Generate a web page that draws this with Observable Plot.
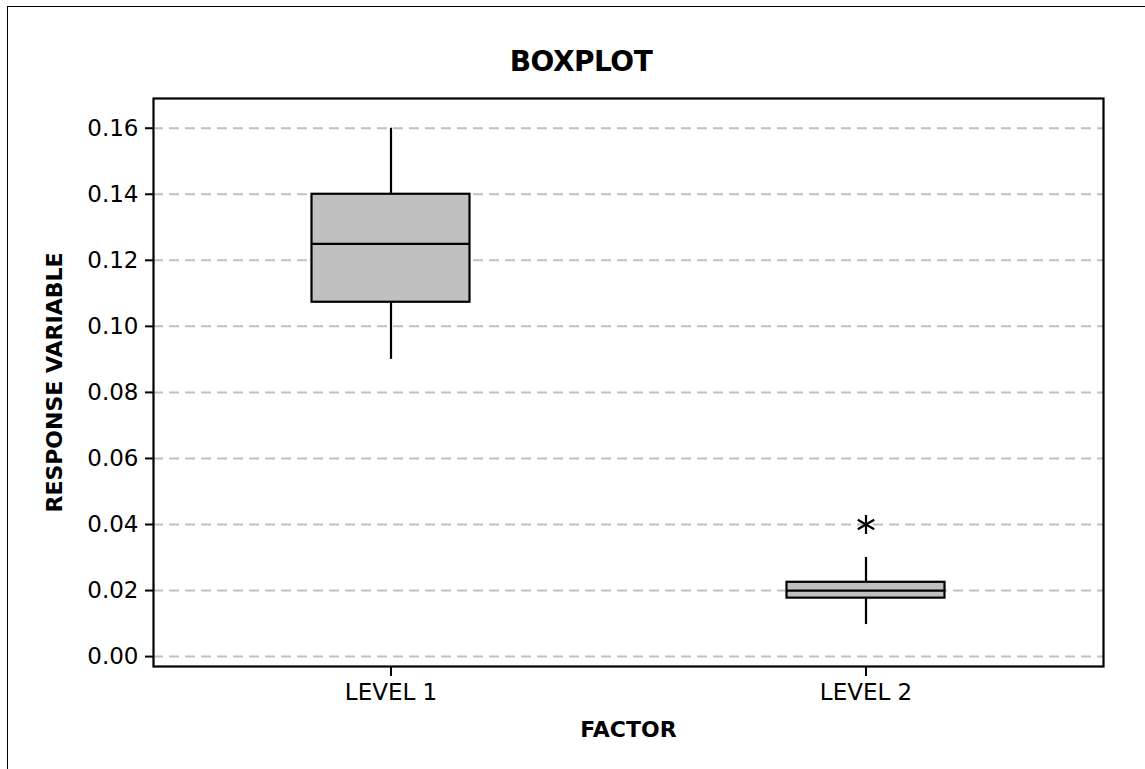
<!DOCTYPE html>
<html>
<head>
<meta charset="utf-8">
<script src="https://cdn.jsdelivr.net/npm/d3@7"></script>
<script src="https://cdn.jsdelivr.net/npm/@observablehq/plot@0.6"></script>
<style>
  html, body { margin: 0; padding: 0; background: #fff; overflow: hidden; }
  #page { position: relative; width: 1145px; height: 769px; overflow: hidden; background: #fff; }
  #border { position: absolute; left: 7px; top: 6px; width: 1300px; height: 900px; z-index: 5;
            border-top: 1px solid #000; border-left: 1px solid #000; pointer-events: none; }
  #title { position: absolute; left: 431px; width: 300px; top: 48px; height: 30px; line-height: 28px;
           text-align: center; font-family: "DejaVu Sans", sans-serif; font-weight: bold;
           font-size: 28px; letter-spacing: -0.5px; color: #000; }
  #chart { position: absolute; left: 0; top: 80px; }
  #chart svg { background: transparent !important; }
  #chart svg text { fill: #000; }
</style>
</head>
<body>
<div id="page">
  <div id="title">BOXPLOT</div>
  <div id="chart"></div>
  <div id="border"></div>
</div>
<script>
// ---- data ----
const levels      = ["LEVEL 1", "LEVEL 2"];
const whiskerLow  = [0.090, 0.0097];
const q1          = [0.1073, 0.0177];
const median      = [0.125, 0.020];
const q3          = [0.140, 0.0225];
const whiskerHigh = [0.160, 0.030];
const outlierLevel = ["LEVEL 2"];
const outlierValue = [0.040];
const yTicks = [0.00, 0.02, 0.04, 0.06, 0.08, 0.10, 0.12, 0.14, 0.16];
const yLabel = "RESPONSE VARIABLE";
const xLabel = "FACTOR";

const boxes = levels.map((level, i) => ({
  level, lo: whiskerLow[i], q1: q1[i], median: median[i], q3: q3[i], hi: whiskerHigh[i]
}));
const outliers = outlierLevel.map((level, i) => ({level, value: outlierValue[i]}));

const W = 1145, H = 689;
const mL = 153, mR = 42, mT = 18, mB = 103;
const bandW = (W - mL - mR) / levels.length;
const boxInset = (bandW - 158) / 2;

const chart = Plot.plot({
  width: W,
  height: H,
  marginLeft: mL,
  marginRight: mR,
  marginTop: mT,
  marginBottom: mB,
  style: {fontFamily: "DejaVu Sans, sans-serif", fontSize: "23px", color: "#000", background: "transparent"},
  x: {type: "band", domain: levels, padding: 0, align: 0.5, label: null},
  y: {domain: [-0.003, 0.169], label: null},
  marks: [
    Plot.gridY(yTicks, {stroke: "#c0c0c0", strokeOpacity: 1, strokeWidth: 2, strokeDasharray: "10,6"}),
    Plot.ruleX(boxes, {x: "level", y1: "lo", y2: "q1", stroke: "#000", strokeWidth: 2.2}),
    Plot.ruleX(boxes, {x: "level", y1: "q3", y2: "hi", stroke: "#000", strokeWidth: 2.2}),
    Plot.barY(boxes, {x: "level", y1: "q1", y2: "q3", fill: "#c0c0c0", stroke: "#000", strokeWidth: 2.2,
                      insetLeft: boxInset, insetRight: boxInset}),
    Plot.tickY(boxes, {x: "level", y: "median", stroke: "#000", strokeWidth: 2.2,
                       insetLeft: boxInset, insetRight: boxInset}),
    Plot.dot(outliers, {x: "level", y: "value", symbol: "asterisk", r: 9, stroke: "#000", strokeWidth: 2.2}),
    Plot.axisY(yTicks, {tickSize: 8, tickPadding: 7, tickFormat: d3.format(".2f"), label: null,
                        fontSize: 23, stroke: "#000", strokeWidth: 2, fill: "#000"}),
    Plot.axisX({tickSize: 10, tickPadding: 7, label: null, fontSize: 23,
                stroke: "#000", strokeWidth: 2, fill: "#000"}),
    Plot.frame({stroke: "#000", strokeWidth: 2.2}),
    Plot.text([yLabel], {frameAnchor: "left", rotate: -90, dx: -92, lineAnchor: "bottom", textAnchor: "middle",
                         fontWeight: "bold", fontSize: 22, fill: "#000"}),
    Plot.text([xLabel], {frameAnchor: "bottom", dy: 70, lineAnchor: "bottom", textAnchor: "middle",
                         fontWeight: "bold", fontSize: 22, fill: "#000"})
  ]
});
document.getElementById("chart").appendChild(chart);
</script>
</body>
</html>
